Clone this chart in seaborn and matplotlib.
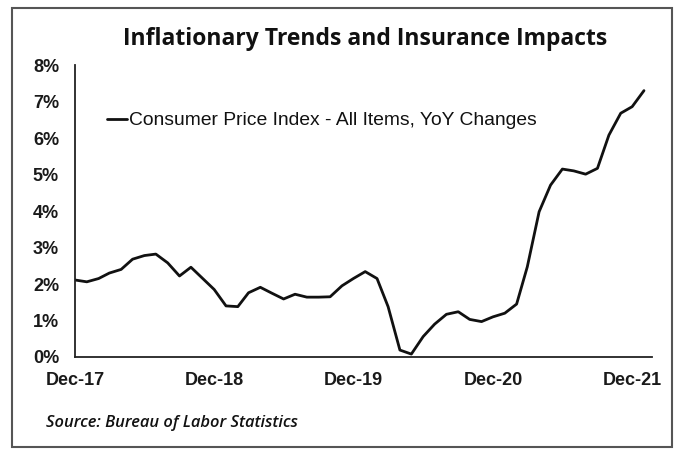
import matplotlib
matplotlib.use("Agg")
import matplotlib.pyplot as plt
from matplotlib.patches import Rectangle
import seaborn as sns
import pandas as pd

# ---- data ----
cpi_yoy = [2.11, 2.06, 2.15, 2.30, 2.40, 2.68, 2.78, 2.82, 2.58, 2.22, 2.46, 2.15,
           1.85, 1.40, 1.38, 1.76, 1.91, 1.75, 1.59, 1.72, 1.64, 1.64, 1.65, 1.95,
           2.15, 2.34, 2.15, 1.38, 0.19, 0.08, 0.56, 0.90, 1.17, 1.24, 1.03, 0.97,
           1.10, 1.20, 1.45, 2.47, 3.98, 4.71, 5.15, 5.10, 5.01, 5.17, 6.08, 6.68,
           6.86, 7.30]
start_month = "2017-12-01"
tick_dates = ["2017-12-01", "2018-12-01", "2019-12-01", "2020-12-01", "2021-12-01"]
tick_labels = ["Dec-17", "Dec-18", "Dec-19", "Dec-20", "Dec-21"]
y_ticks = [0, 1, 2, 3, 4, 5, 6, 7, 8]
y_labels = [f"{v}%" for v in y_ticks]
series_name = "Consumer Price Index - All Items, YoY Changes"
title = "Inflationary Trends and Insurance Impacts"
source = "Source: Bureau of Labor Statistics"

months = pd.date_range(start_month, periods=len(cpi_yoy), freq="MS")
df = pd.DataFrame({"month": months, "value": cpi_yoy, "series": series_name})

sns.set_style("white")
plt.rcParams["font.family"] = ["Liberation Sans", "DejaVu Sans"]

fig = plt.figure(figsize=(6.83, 4.55), dpi=100)
ax = fig.add_axes([0.1098, 0.2154, 0.8448, 0.6416])

sns.lineplot(data=df, x="month", y="value", hue="series", palette=["#111111"],
             linewidth=2.0, ax=ax)

ax.set_ylim(0, 8)
ax.set_xlim(pd.Timestamp(start_month), pd.Timestamp("2022-01-22"))
ax.set_yticks(y_ticks)
ax.set_yticklabels(y_labels, fontsize=13, fontweight="bold", color="#1a1a1a")
ax.set_xticks(pd.to_datetime(tick_dates))
ax.set_xticklabels(tick_labels, fontsize=13, fontweight="bold", color="#1a1a1a")
ax.tick_params(axis="y", length=0, pad=11.5)
ax.tick_params(axis="x", length=5, width=1.2, direction="inout", pad=8, color="#222222")
ax.set_xlabel("")
ax.set_ylabel("")
for s in ["top", "right"]:
    ax.spines[s].set_visible(False)
for s in ["left", "bottom"]:
    ax.spines[s].set_color("#222222")
    ax.spines[s].set_linewidth(1.3)

leg = ax.legend(loc="upper left", bbox_to_anchor=(0.026, 0.899), frameon=False,
                handlelength=1.0, handletextpad=0.1, fontsize=13.9)
for t in leg.get_texts():
    t.set_color("#111111")

fig.text(0.535, 0.914, title, ha="center", va="center", fontsize=16.5,
         fontweight="bold", family=["Open Sans", "DejaVu Sans"], color="#111111")
fig.text(0.068, 0.07, source, ha="left", va="center", fontsize=11.9,
         style="italic", fontweight="semibold", family=["Open Sans", "DejaVu Sans"],
         color="#111111")

fig.patches.append(Rectangle((0.018, 0.018), 0.966, 0.964, transform=fig.transFigure,
                             fill=False, edgecolor="#555555", linewidth=1.5))

fig.savefig("out.png", dpi=100)
